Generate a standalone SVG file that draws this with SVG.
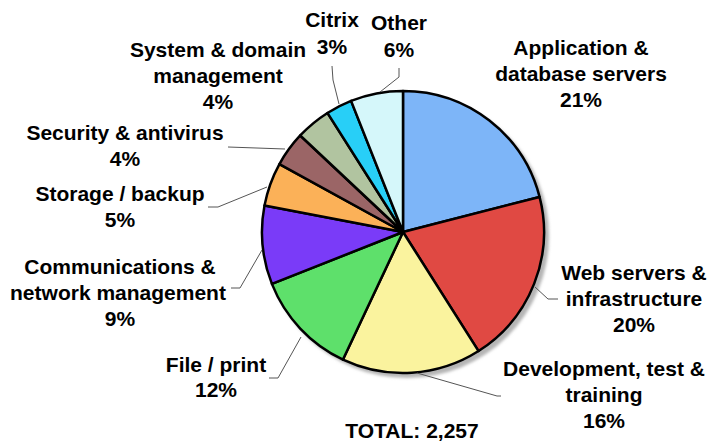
<svg xmlns="http://www.w3.org/2000/svg" width="707" height="443" viewBox="0 0 707 443">
<style>
.sl{stroke:#000;stroke-width:2.5;stroke-linejoin:round}
.ld{fill:none;stroke:#555;stroke-width:1}
text{font-family:"Liberation Sans",Arial,sans-serif;font-weight:bold;font-size:21px;fill:#000;text-anchor:middle}
</style>
<defs>
<filter id="blur" x="-10%" y="-10%" width="120%" height="120%"><feGaussianBlur stdDeviation="1.5"/></filter>
</defs>
<rect width="707" height="443" fill="#fff"/>
<circle cx="407" cy="236" r="142" fill="#b5b5b5" filter="url(#blur)"/>
<g id="slices">
<g id="application"><path class="sl" fill="#7DB5F8" d="M403,232 L403,91 A141,141 0 0 1 539.57,196.93 Z"/></g>
<g id="web"><path class="sl" fill="#E04943" d="M403,232 L539.57,196.93 A141,141 0 0 1 478.55,351.05 Z"/></g>
<g id="development"><path class="sl" fill="#FAF39E" d="M403,232 L478.55,351.05 A141,141 0 0 1 342.96,359.58 Z"/></g>
<g id="fileprint"><path class="sl" fill="#5EE06B" d="M403,232 L342.96,359.58 A141,141 0 0 1 271.90,283.91 Z"/></g>
<g id="communications"><path class="sl" fill="#7A3BF8" d="M403,232 L271.90,283.91 A141,141 0 0 1 264.50,205.58 Z"/></g>
<g id="storage"><path class="sl" fill="#FBB158" d="M403,232 L264.50,205.58 A141,141 0 0 1 279.44,164.07 Z"/></g>
<g id="security"><path class="sl" fill="#9B6566" d="M403,232 L279.44,164.07 A141,141 0 0 1 300.22,135.48 Z"/></g>
<g id="system"><path class="sl" fill="#B1C4A0" d="M403,232 L300.22,135.48 A141,141 0 0 1 327.45,112.95 Z"/></g>
<g id="citrix"><path class="sl" fill="#28CFF7" d="M403,232 L327.45,112.95 A141,141 0 0 1 351.09,100.90 Z"/></g>
<g id="other"><path class="sl" fill="#D5F7FA" d="M403,232 L351.09,100.90 A141,141 0 0 1 403,91 Z"/></g>
</g>
<g id="connectors">
<polyline class="ld" points="380,92 399,77 399,68"/>
<polyline class="ld" points="339,104 333,80 332,66"/>
<polyline class="ld" points="228,147 285,149"/>
<polyline class="ld" points="208,207 218,207 267,187"/>
<polyline class="ld" points="231,288 240,288 262,250"/>
<polyline class="ld" points="269,378 278,378 301,337"/>
<polyline class="ld" points="535,287 548,299 558,299"/>
<polyline class="ld" points="417,373 497,396 501,396"/>
</g>
<g id="labels">
<g id="lbl-application"><text x="581" y="55">Application &amp;</text><text x="581" y="81">database servers</text><text x="581" y="107">21%</text></g>
<g id="lbl-web"><text x="634" y="280">Web servers &amp;</text><text x="634" y="306">infrastructure</text><text x="634" y="332">20%</text></g>
<g id="lbl-development"><text x="604" y="376">Development, test &amp;</text><text x="604" y="402">training</text><text x="604" y="428">16%</text></g>
<g id="lbl-fileprint"><text x="216" y="372">File / print</text><text x="216" y="397">12%</text></g>
<g id="lbl-communications"><text x="120" y="274">Communications &amp;</text><text x="118" y="300">network management</text><text x="120" y="326">9%</text></g>
<g id="lbl-storage"><text x="120" y="201">Storage / backup</text><text x="120" y="227">5%</text></g>
<g id="lbl-security"><text x="125" y="140">Security &amp; antivirus</text><text x="125" y="166">4%</text></g>
<g id="lbl-system"><text x="218" y="57">System &amp; domain</text><text x="218" y="83">management</text><text x="218" y="109">4%</text></g>
<g id="lbl-citrix"><text x="332" y="27">Citrix</text><text x="332" y="54">3%</text></g>
<g id="lbl-other"><text x="399" y="30">Other</text><text x="399" y="57">6%</text></g>
<g id="lbl-total"><text x="412" y="438">TOTAL: 2,257</text></g>
</g>
</svg>
